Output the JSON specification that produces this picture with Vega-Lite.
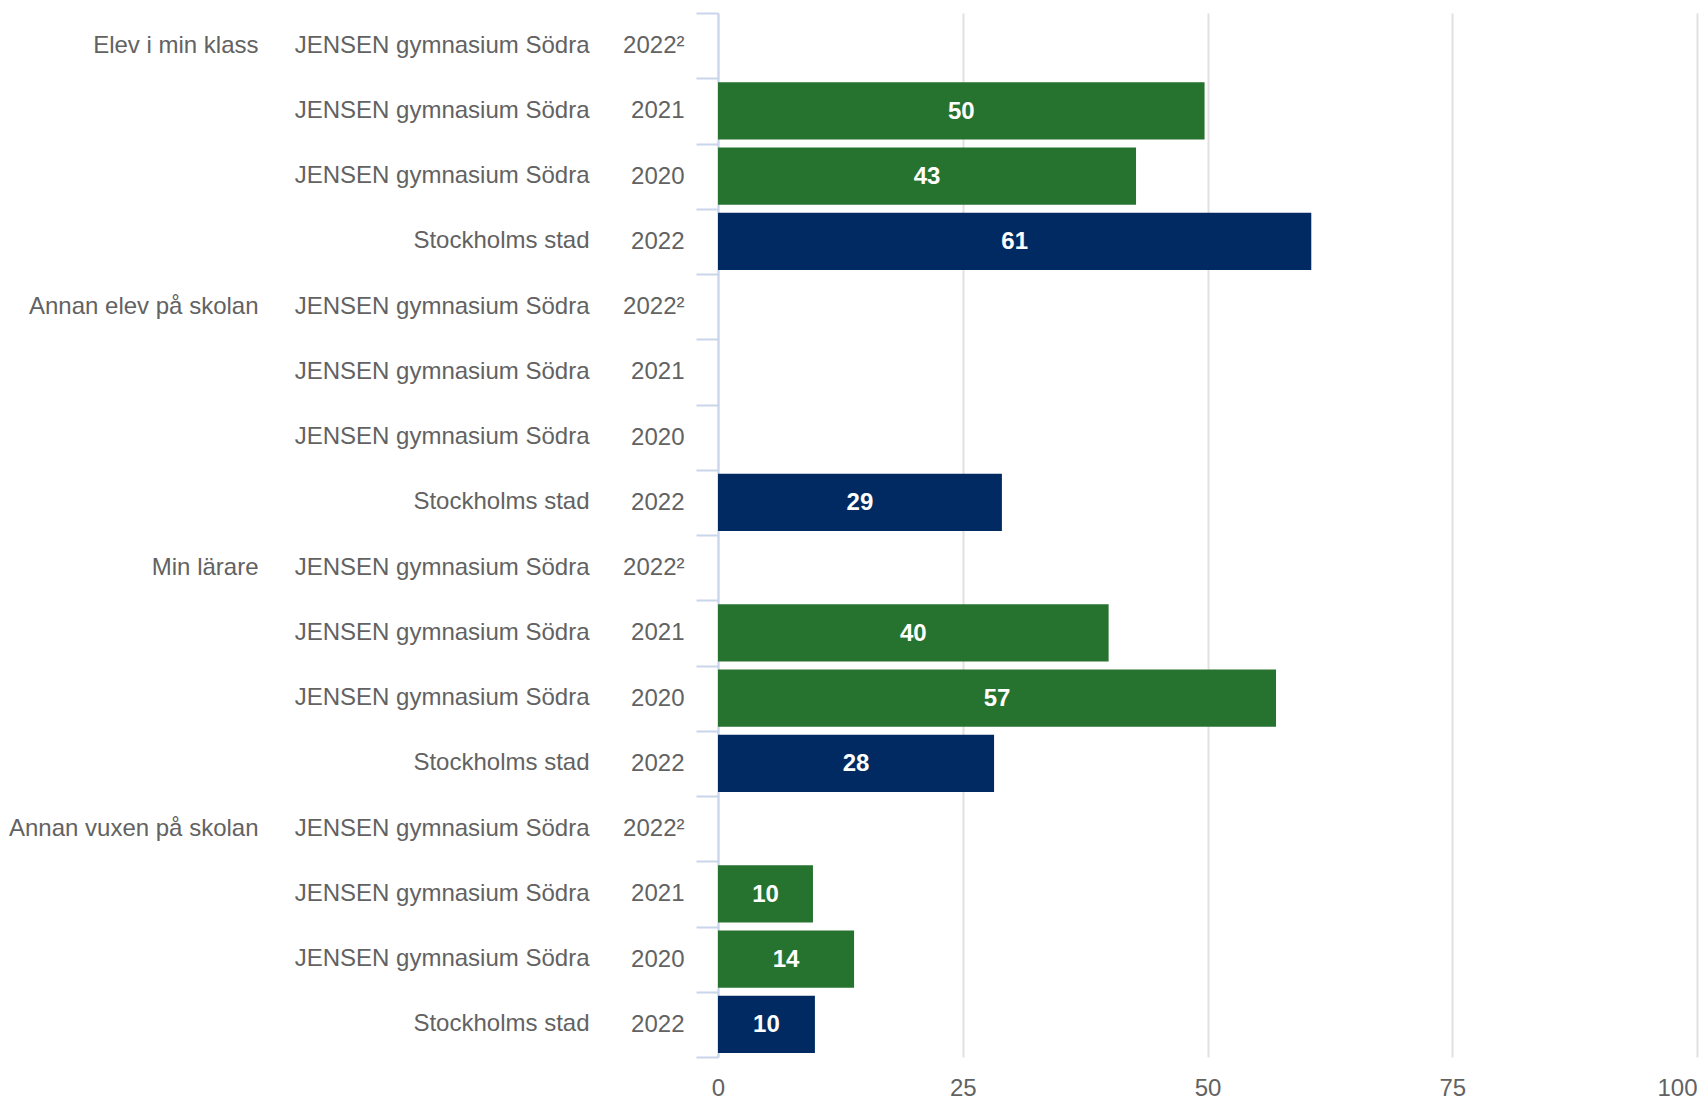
{
  "$schema": "https://vega.github.io/schema/vega-lite/v6.json",
  "width": 1699,
  "height": 1100,
  "autosize": {"type": "fit", "contains": "padding"},
  "padding": {"left": 8, "right": 2, "top": 1, "bottom": 0},
  "background": "white",
  "config": {
    "view": {"stroke": null},
    "font": "Liberation Sans",
    "axis": {"labelFont": "Liberation Sans", "labelFontSize": 24, "labelColor": "#626262", "title": null, "labelLimit": 0}
  },
  "data": {
    "values": [
      {"id": "Elev i min klass|JENSEN gymnasium Södra|2022²", "grupp": "JENSEN", "value": null},
      {"id": "|JENSEN gymnasium Södra|2021", "grupp": "JENSEN", "value": 49.7},
      {"id": "|JENSEN gymnasium Södra|2020", "grupp": "JENSEN", "value": 42.7},
      {"id": "|Stockholms stad|2022", "grupp": "Stockholm", "value": 60.6},
      {"id": "Annan elev på skolan|JENSEN gymnasium Södra|2022² ", "grupp": "JENSEN", "value": null},
      {"id": "|JENSEN gymnasium Södra|2021 ", "grupp": "JENSEN", "value": null},
      {"id": "|JENSEN gymnasium Södra|2020 ", "grupp": "JENSEN", "value": null},
      {"id": "|Stockholms stad|2022 ", "grupp": "Stockholm", "value": 29.0},
      {"id": "Min lärare|JENSEN gymnasium Södra|2022²  ", "grupp": "JENSEN", "value": null},
      {"id": "|JENSEN gymnasium Södra|2021  ", "grupp": "JENSEN", "value": 39.9},
      {"id": "|JENSEN gymnasium Södra|2020  ", "grupp": "JENSEN", "value": 57.0},
      {"id": "|Stockholms stad|2022  ", "grupp": "Stockholm", "value": 28.2},
      {"id": "Annan vuxen på skolan|JENSEN gymnasium Södra|2022²   ", "grupp": "JENSEN", "value": null},
      {"id": "|JENSEN gymnasium Södra|2021   ", "grupp": "JENSEN", "value": 9.7},
      {"id": "|JENSEN gymnasium Södra|2020   ", "grupp": "JENSEN", "value": 13.9},
      {"id": "|Stockholms stad|2022   ", "grupp": "Stockholm", "value": 9.9}
    ]
  },
  "layer": [
    {
      "mark": {"type": "tick", "opacity": 0},
      "encoding": {
        "y": {
          "field": "id", "type": "nominal", "sort": null,
          "scale": {"paddingInner": 0, "paddingOuter": 0},
          "axis": {
            "orient": "left", "domain": false, "ticks": false, "grid": false,
            "labelPadding": 460, "labelExpr": "isValid(datum.value) ? split(datum.value, '|')[0] : ''"
          }
        }
      }
    },
    {
      "mark": {"type": "tick", "opacity": 0},
      "encoding": {
        "y": {
          "field": "id", "type": "nominal", "sort": null,
          "axis": {
            "orient": "left", "domain": false, "ticks": false, "grid": false,
            "labelPadding": 129, "labelExpr": "isValid(datum.value) ? split(datum.value, '|')[1] : ''"
          }
        }
      }
    },
    {
      "mark": {"type": "bar", "height": {"band": 0.875}},
      "encoding": {
        "y": {
          "field": "id", "type": "nominal", "sort": null,
          "axis": {
            "orient": "left", "domain": true, "domainColor": "#c9d5eb", "domainWidth": 2,
            "ticks": true, "tickColor": "#c9d5eb", "tickWidth": 2, "tickSize": 22, "tickBand": "extent",
            "grid": false, "labelPadding": 12,
            "labelExpr": "isValid(datum.value) ? trim(split(datum.value, '|')[2]) : ''"
          }
        },
        "x": {
          "field": "value", "type": "quantitative",
          "scale": {"domain": [0, 100], "nice": false},
          "axis": {
            "orient": "bottom", "values": [0, 25, 50, 75, 100],
            "domain": false, "ticks": false, "grid": true, "gridColor": "#e1e1e1", "gridWidth": 2,
            "labelPadding": 19,
            "labelAlign": {"condition": {"test": "datum.value == 100", "value": "right"}, "value": "center"}
          }
        },
        "color": {
          "field": "grupp", "type": "nominal",
          "scale": {"domain": ["JENSEN", "Stockholm"], "range": ["#26722f", "#002a61"]},
          "legend": null
        }
      }
    },
    {
      "mark": {"type": "text", "color": "white", "fontWeight": "bold", "fontSize": 24, "font": "Liberation Sans", "align": "center", "baseline": "middle", "dy": 1},
      "encoding": {
        "y": {"field": "id", "type": "nominal", "sort": null, "axis": null},
        "x": {
          "field": "value", "type": "quantitative",
          "scale": {"domain": [0, 200], "nice": false},
          "axis": null
        },
        "text": {"field": "value", "type": "quantitative", "format": ".0f"}
      }
    }
  ],
  "resolve": {"scale": {"x": "independent"}, "axis": {"y": "independent"}}
}
